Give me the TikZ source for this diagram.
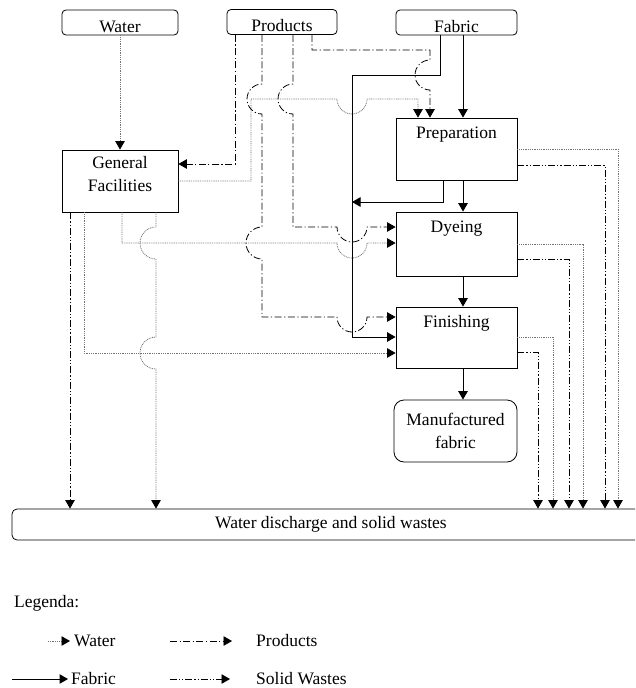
\documentclass[tikz,border=0pt]{standalone}
\usepackage{fontspec}
\setmainfont{Liberation Serif}
\usetikzlibrary{arrows.meta}
\tikzset{
  flowtip/.style={-{Triangle[length=8.5pt,width=9.5pt,color=black]}},
  wat/.style={flowtip, draw=black!55, line width=0.8pt, dash pattern=on 0.9pt off 0.9pt},
  prd/.style={flowtip, line width=0.8pt, dash pattern=on 7pt off 2.5pt on 1.2pt off 2.5pt},
  swd/.style={flowtip, line width=0.8pt, dash pattern=on 7pt off 2pt on 1.2pt off 2pt on 1.2pt off 2pt},
  fab/.style={flowtip, line width=1pt},
  src/.style={draw, rounded corners=4pt, text height=22pt, text depth=3pt, inner ysep=0pt, line width=0.8pt},
  proc/.style={draw, minimum width=121pt, text height=20pt, text depth=42pt, inner ysep=0pt, line width=0.8pt},
  gflbl/.style={anchor=north, inner sep=0pt, align=center, yshift=-7pt},
  mfab/.style={draw, rounded corners=10pt, minimum width=123pt, minimum height=62pt, align=center, line width=0.8pt},
  sink/.style={draw, rounded corners=5pt, minimum width=638pt, minimum height=31pt, line width=0.8pt},
  legtxt/.style={anchor=base west, inner sep=0pt}
}

\begin{document}
\begin{tikzpicture}[x=1pt, y=-1pt, font=\fontsize{17.5pt}{23pt}\selectfont]
\useasboundingbox (0,0) rectangle (635,688);
\clip (0,0) rectangle (635,688);

% inputs
\node[src, minimum width=116pt] (water) at (120,22.5) {Water};
\node[src, minimum width=110pt] (prod) at (282,22) {Products};
\node[src, minimum width=121pt] (fabric) at (456.5,22.5) {Fabric};

% process
\node[proc, minimum width=116pt, label={[gflbl]north:General\\Facilities}] (gf) at (120,181) {};
\node[proc] (prep) at (456.5,149) {Preparation};
\node[proc, text depth=44pt] (dye) at (456.5,244) {Dyeing};
\node[proc, text depth=41pt] (fin) at (456.5,337.5) {Finishing};
\node[mfab] (mfab) at (455.5,431) {Manufactured\\fabric};
\node[sink] (sink) at (331,524.5) {Water discharge and solid wastes};
\coordinate (merge) at (352,202);

% water
\draw[wat] (water) -- (gf);
\draw[wat] (gf.east) -| (251,99) -- (337,99) arc[start angle=180,end angle=0,radius=15] -- (418,99) -- (prep.north -| 418,0);
\draw[wat] (gf.south -| 122,0) |- (337,243) arc[start angle=180,end angle=0,radius=15] -- (dye.west |- 0,243);
\draw[wat] (gf.south -| 156,0) -- (156,227) arc[start angle=270,end angle=90,radius=16] -- (156,337) arc[start angle=270,end angle=90,radius=16] -- (sink.north -| 156,0);
\draw[wat] (gf.south -| 84,0) |- (fin.west |- 0,353);
\draw[wat] (prep.east) -| (sink.north -| 618,0);
\draw[wat] (dye.east) -| (sink.north -| 583,0);
\draw[wat] (fin.east |- 0,337) -| (sink.north -| 553,0);

% products
\draw[prd] (prod.south -| 235,0) |- (gf.east |- 0,164);
\draw[prd] (prod.south -| 262,0) -- (262,84) arc[start angle=270,end angle=90,radius=15] -- (262,227) arc[start angle=270,end angle=90,radius=16] -- (262,317) -- (337,317) arc[start angle=180,end angle=0,radius=15] -- (fin.west |- 0,317);
\draw[prd] (prod.south -| 293,0) -- (293,84) arc[start angle=270,end angle=90,radius=15] -- (293,227) -- (337,227) arc[start angle=180,end angle=0,radius=15] -- (dye.west |- 0,227);
\draw[prd] (prod.south -| 312,0) |- (430,50) -- (430,60) arc[start angle=270,end angle=90,radius=15] -- (prep.north -| 430,0);

% fabric
\draw[fab] (fabric.south -| 440,0) |- (352,75) |- (fin.west |- 0,337);
\draw[fab] (fabric.south -| 463,0) -- (prep.north -| 463,0);
\draw[fab] (prep.south -| 443,0) |- (merge);
\draw[fab] (prep.south -| 463,0) -- (dye.north -| 463,0);
\draw[fab] (dye.south -| 463,0) -- (fin.north -| 463,0);
\draw[fab] (fin.south -| 463,0) -- (mfab.north -| 463,0);

% solid wastes
\draw[swd] (gf.south -| 70,0) -- (sink.north -| 70,0);
\draw[swd] (prep.east |- 0,165) -| (sink.north -| 605,0);
\draw[swd] (dye.east |- 0,259) -| (sink.north -| 569,0);
\draw[swd] (fin.east |- 0,352) -| (sink.north -| 538,0);

% legend
\node[legtxt] (leg) at (14,607) {Legenda:};
\coordinate (lw1) at (48,641);  \coordinate (lw2) at (70,641);
\coordinate (lp1) at (170,641); \coordinate (lp2) at (232,641);
\coordinate (lf1) at (12,679);  \coordinate (lf2) at (68,679);
\coordinate (ls1) at (170,679); \coordinate (ls2) at (230,679);
\draw[wat] (lw1) -- (lw2);
\draw[prd] (lp1) -- (lp2);
\draw[fab] (lf1) -- (lf2);
\draw[swd] (ls1) -- (ls2);
\node[legtxt] (lwt) at (74,646) {Water};
\node[legtxt] (lpt) at (256,646) {Products};
\node[legtxt] (lft) at (71,684) {Fabric};
\node[legtxt] (lst) at (256,684) {Solid Wastes};
\end{tikzpicture}
\end{document}
